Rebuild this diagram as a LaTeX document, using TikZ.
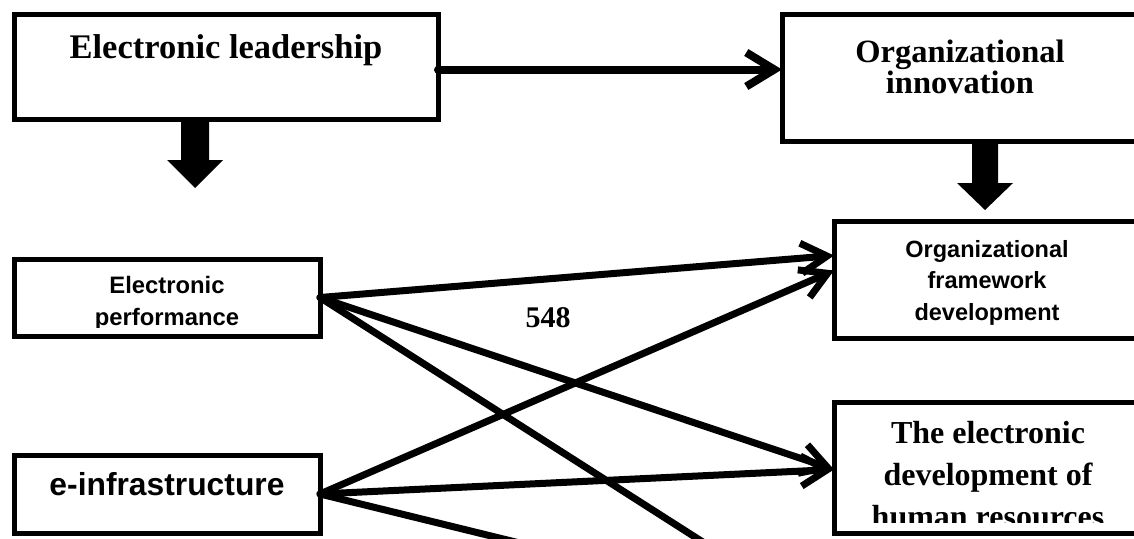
\documentclass[tikz,border=0pt]{standalone}
\usepackage{fontspec}
\setmainfont{Liberation Serif}
\newfontfamily\arialf{Liberation Sans}
\usetikzlibrary{arrows.meta}
\tikzset{
  box/.style={draw, line width=5pt, inner sep=0pt, outer sep=0pt, fill=white},
  conn/.style={line width=7pt, line cap=round, -{Straight Barb[length=26pt,width=30pt]}},
  plainconn/.style={line width=7pt, line cap=round},
  bigconn/.style={line width=8pt, line cap=round, -{Straight Barb[length=28pt,width=34pt]}},
  txt/.style={inner sep=0pt, outer sep=0pt, anchor=base, align=center},
}
\begin{document}
\begin{tikzpicture}[x=1pt,y=-1pt]
\clip (0,0) rectangle (1134,538);
\fill[white] (0,0) rectangle (1134,538);
% boxes
\node[box, minimum width=424pt, minimum height=105pt] (el) at (226,66.5) {};
\node[box, minimum width=363pt, minimum height=127pt] (oi) at (963.5,77.5) {};
\node[box, minimum width=311pt, minimum height=117pt] (ofd) at (989.5,279.5) {};
\node[box, minimum width=311pt, minimum height=131pt] (edh) at (989.5,467.5) {};
\node[box, minimum width=306pt, minimum height=77pt] (ep) at (167,297.5) {};
\node[box, minimum width=306pt, minimum height=78pt] (ei) at (167,494) {};
% texts (multi-line nodes: base = last line's baseline)
\node[txt, font=\bfseries\fontsize{34.5}{40}\selectfont] (elt) at (226,58) {Electronic leadership};
\node[txt, font=\bfseries\fontsize{32.5}{31}\selectfont] (oit) at (960,93) {Organizational\\innovation};
\node[txt, font=\arialf\bfseries\fontsize{23.5}{31.5}\selectfont] (ofdt) at (987,320) {Organizational\\framework\\development};
\begin{scope}
\clip (14,259) rectangle (320,327);
\node[txt, font=\arialf\bfseries\fontsize{23.8}{32}\selectfont] (ept) at (167,325) {Electronic\\performance};
\end{scope}
\node[txt, font=\arialf\bfseries\fontsize{31.8}{38}\selectfont] (eit) at (167,495) {e-infrastructure};
\begin{scope}
\clip (834,402) rectangle (1145,522);
\node[txt, font=\bfseries\fontsize{32}{42}\selectfont] (edht) at (988,527) {The electronic\\development of\\human resources};
\end{scope}
\node[inner sep=0pt, font=\bfseries\fontsize{30}{34}\selectfont] (lbl) at (548,318) {548};
% block arrows
\fill (181,119) -- (209,119) -- (209,160) -- (223,160) -- (195,188) -- (167,160) -- (181,160) -- cycle;
\fill (972,141) -- (998,141) -- (998,183) -- (1013,183) -- (985,210) -- (957,183) -- (972,183) -- cycle;
% connectors
\coordinate (off1) at (720,553);
\coordinate (off2) at (540,548);
\draw[bigconn] ([yshift=-3pt]el.east) -- ([yshift=8pt]oi.west);
\draw[conn] (ep.east) -- ([yshift=24pt]ofd.west);
\draw[conn] (ep.east) -- ([yshift=-2pt]edh.west);
\draw[plainconn] (ep.east) -- (off1);
\draw[conn] (ei.east) -- ([yshift=9pt]ofd.west);
\draw[conn] (ei.east) -- ([yshift=-2pt]edh.west);
\draw[plainconn] (ei.east) -- (off2);
\end{tikzpicture}
\end{document}
